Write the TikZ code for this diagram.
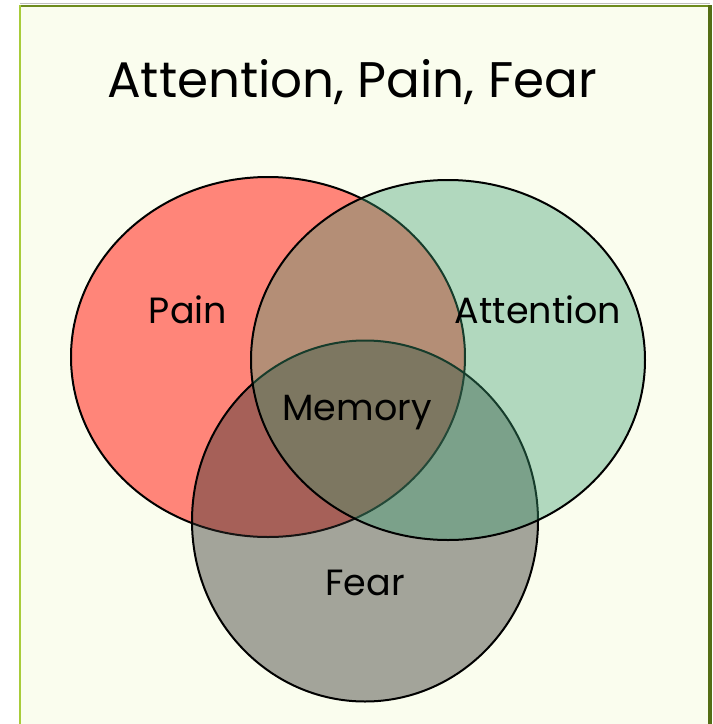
\documentclass[tikz,border=0pt]{standalone}
\usepackage{fontspec}
\setmainfont{Poppins}
\usetikzlibrary{shapes.geometric}
\definecolor{bgfill}{RGB}{250,253,238}
\definecolor{painred}{RGB}{255,133,121}
\definecolor{feargrey}{RGB}{50,48,45}
\definecolor{attgreen}{RGB}{60,158,114}
\definecolor{leftedge}{RGB}{168,204,58}
\definecolor{topedge}{RGB}{110,140,30}
\definecolor{rightedge}{RGB}{84,110,20}
\tikzset{
  venn/.style={ellipse, draw=black, line width=2pt, inner sep=0pt, outer sep=0pt},
  lbl/.style={font=\fontsize{36.5}{40}\selectfont, text=black, inner sep=0pt, anchor=base},
  ttl/.style={font=\fontsize{50}{56}\selectfont, text=black, inner sep=0pt, anchor=base}
}
\begin{document}
\begin{tikzpicture}[x=1pt,y=-1pt]
\useasboundingbox (0,0) rectangle (713,724);
\fill[white] (0,0) rectangle (713,724);
% frame
\fill[bgfill] (20,6) rectangle (710,730);
\draw[black!25, line width=1.5pt] (20,3.5) -- (710,3.5);
\draw[topedge, line width=2pt] (20,6) -- (710,6);
\draw[leftedge, line width=2pt] (20,5) -- (20,730);
\draw[rightedge, line width=4pt] (710,5) -- (710,730);
% circles
\node[venn, fill=painred, minimum width=394pt, minimum height=360pt] (pain) at (268,357) {};
\node[venn, fill=feargrey, fill opacity=0.43, minimum width=346pt, minimum height=361pt] (fear) at (365,521) {};
\node[venn, fill=attgreen, fill opacity=0.38, minimum width=394pt, minimum height=360pt] (att) at (448,360) {};
% texts
\node[ttl] (title) at (352,97) {Attention, Pain, Fear};
\node[lbl] (painlbl) at (188,323) {Pain};
\node[lbl] (attlbl) at (538,323) {Attention};
\node[lbl] (memlbl) at (357,420) {Memory};
\node[lbl] (fearlbl) at (365,595) {Fear};
\end{tikzpicture}
\end{document}
